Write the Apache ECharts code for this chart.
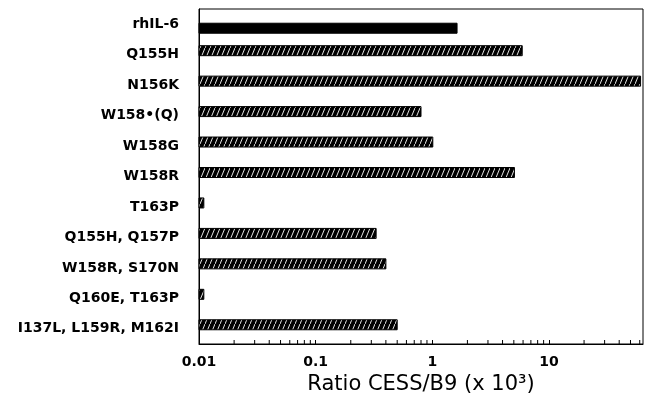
<!DOCTYPE html>
<html>
<head>
<meta charset="utf-8">
<script src="https://cdn.jsdelivr.net/npm/echarts@6/dist/echarts.min.js"></script>
<style>
  html, body { margin: 0; padding: 0; background: #fff; }
  #chart { width: 646px; height: 399px; }
</style>
</head>
<body>
<div id="chart"></div>
<script>
// ---- Data ----
const categories = [
  'rhIL-6', 'Q155H', 'N156K', 'W158•(Q)', 'W158G', 'W158R', 'T163P',
  'Q155H, Q157P', 'W158R, S170N', 'Q160E, T163P', 'I137L, L159R, M162I'
];
// control (rhIL-6, solid bar)
const controlRatio = [1.63, null, null, null, null, null, null, null, null, null, null];
// mutants (hatched bars)
const mutantRatio = [null, 5.9, 61, 0.80, 1.01, 5.06, 0.011, 0.33, 0.40, 0.011, 0.50];
// x-axis (log) extent and minor tick positions
const xMin = 0.01;
const xMax = 64;
const minorTickValues = [
  0.02, 0.03, 0.04, 0.05, 0.06, 0.07, 0.08, 0.09,
  0.2, 0.3, 0.4, 0.5, 0.6, 0.7, 0.8, 0.9,
  2, 3, 4, 5, 6, 7, 8, 9,
  20, 30, 40, 50, 60
];
const xAxisTitle = 'Ratio CESS/B9 (x 10³)';

// ---- Hatch pattern ----
function makeHatch() {
  const c = document.createElement('canvas');
  c.width = 5; c.height = 12;
  const ctx = c.getContext('2d');
  ctx.fillStyle = '#000';
  ctx.fillRect(0, 0, 5, 12);
  ctx.strokeStyle = '#fff';
  ctx.lineWidth = 0.9;
  ctx.beginPath();
  ctx.moveTo(-1, 14.4);
  ctx.lineTo(6, -2.4);
  ctx.stroke();
  return { image: c, repeat: 'repeat' };
}
const hatch = makeHatch();

function toPairs(arr) {
  const out = [];
  arr.forEach((v, i) => { if (v != null) out.push([v, i]); });
  return out;
}

const BAR_H = 10;
function barRenderer(offset, fill) {
  return function (params, api) {
    const v = api.value(0);
    const idx = api.value(1);
    const s = api.coord([xMin, idx]);
    const e = api.coord([v, idx]);
    const cy = s[1] + offset;
    return {
      type: 'rect',
      shape: { x: s[0], y: cy - BAR_H / 2, width: Math.max(e[0] - s[0], 1), height: BAR_H },
      style: { fill: fill, stroke: '#000', lineWidth: 1 }
    };
  };
}

const chart = echarts.init(document.getElementById('chart'), null, { renderer: 'canvas' });
chart.setOption({
  backgroundColor: '#fff',
  animation: false,
  grid: {
    left: 199, right: 3, top: 9, bottom: 55,
    containLabel: false, outerBoundsMode: 'none',
    show: true, borderColor: '#000', borderWidth: 1, backgroundColor: 'transparent'
  },
  xAxis: {
    type: 'log',
    logBase: 10,
    min: xMin,
    max: xMax,
    axisLine: { show: true, lineStyle: { color: '#000', width: 1 } },
    axisTick: { show: true, inside: true, length: 4, lineStyle: { color: '#000' } },
    splitLine: { show: false },
    minorTick: { show: false },
    axisLabel: {
      color: '#000', fontFamily: 'DejaVu Sans', fontWeight: 'bold', fontSize: 14,
      margin: 11, showMaxLabel: false
    },
    name: xAxisTitle,
    nameLocation: 'middle',
    nameGap: 26,
    nameTextStyle: { color: '#000', fontFamily: 'DejaVu Sans', fontSize: 21 }
  },
  yAxis: {
    type: 'category',
    data: categories,
    inverse: true,
    axisLine: { show: true, lineStyle: { color: '#000', width: 1 } },
    axisTick: { show: false },
    splitLine: { show: false },
    axisLabel: {
      color: '#000', fontFamily: 'DejaVu Sans', fontWeight: 'bold', fontSize: 14,
      margin: 20, padding: [4, 0, 0, 0]
    }
  },
  series: [
    {
      name: 'control',
      type: 'custom',
      coordinateSystem: 'cartesian2d',
      encode: { x: 0, y: 1 },
      data: toPairs(controlRatio),
      renderItem: barRenderer(4, '#000')
    },
    {
      name: 'mutants',
      type: 'custom',
      coordinateSystem: 'cartesian2d',
      encode: { x: 0, y: 1 },
      data: toPairs(mutantRatio),
      renderItem: barRenderer(-4, hatch)
    },
    {
      name: 'minorTicks',
      type: 'custom',
      coordinateSystem: 'cartesian2d',
      encode: { x: 0, y: 1 },
      silent: true,
      data: minorTickValues.map(v => [v, 0]),
      renderItem: function (params, api) {
        const p = api.coord([api.value(0), 0]);
        const cs = params.coordSys;
        const yb = cs.y + cs.height;
        return {
          type: 'line',
          shape: { x1: p[0], y1: yb, x2: p[0], y2: yb - 4 },
          style: { stroke: '#000', lineWidth: 1 }
        };
      }
    }
  ]
});
</script>
</body>
</html>
